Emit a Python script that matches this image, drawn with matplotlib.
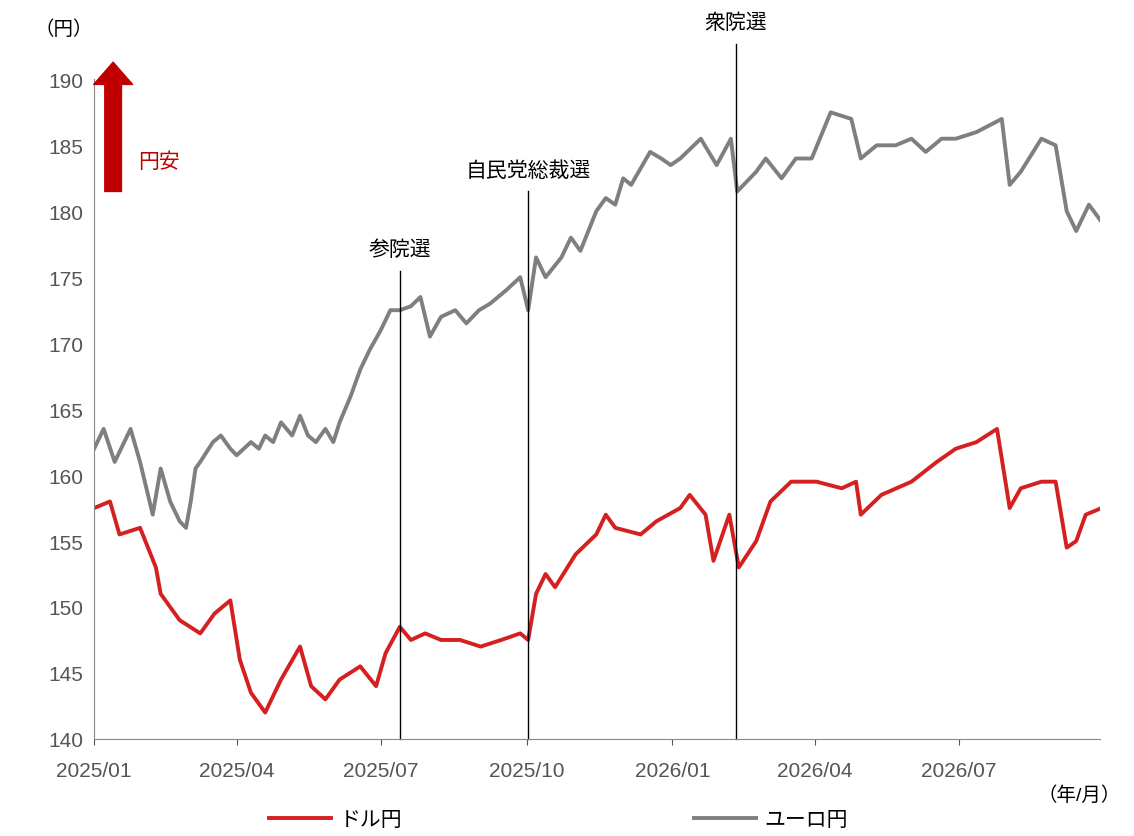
import pandas as pd
import matplotlib
matplotlib.use("Agg")
import matplotlib.pyplot as plt
import matplotlib.dates as mdates

plt.rcParams['font.family'] = ['Liberation Sans', 'Noto Sans CJK JP', 'DejaVu Sans']

START = pd.Timestamp("2025-01-01")

# ユーロ円 (days since 2025-01-01, value)
eur_days = [0, 6, 13, 23, 29, 37, 42, 48, 54, 58, 61, 64, 67, 75, 80, 86, 90, 99, 104, 108,
            113, 118, 125, 130, 135, 140, 146, 151, 155, 162, 168, 174, 181, 187, 193, 200, 206, 212, 219, 228,
            235, 243, 250, 260, 269, 274, 279, 285, 295, 301, 307, 317, 323, 329, 334, 339, 351, 358, 364, 370,
            383, 393, 402, 406, 418, 424, 434, 443, 453, 465, 478, 484, 494, 506, 516, 525, 535, 544, 557, 573,
            578, 585, 598, 607, 614, 620, 628, 636]
eur_vals = [162, 163.5, 161, 163.5, 161, 157, 160.5, 158, 156.5, 156, 158, 160.5, 161, 162.5, 163, 162, 161.5, 162.5, 162, 163,
            162.5, 164, 163, 164.5, 163, 162.5, 163.5, 162.5, 164, 166, 168, 169.5, 171, 172.5, 172.5, 172.8, 173.5, 170.5, 172, 172.5,
            171.5, 172.5, 173, 174, 175, 172.5, 176.5, 175, 176.5, 178, 177, 180, 181, 180.5, 182.5, 182, 184.5, 184, 183.5, 184,
            185.5, 183.5, 185.5, 181.5, 183, 184, 182.5, 184, 184, 187.5, 187, 184, 185, 185, 185.5, 184.5, 185.5, 185.5, 186, 187,
            182, 183, 185.5, 185, 180, 178.5, 180.5, 179.2]

# ドル円
usd_days = [0, 10, 16, 29, 39, 42, 54, 67, 76, 86, 92, 99, 108, 118, 130, 137, 146, 155, 168, 178,
            184, 193, 200, 209, 219, 231, 244, 257, 269, 274, 279, 285, 291, 304, 317, 323, 329, 345, 355, 370,
            376, 386, 391, 401, 407, 418, 427, 440, 456, 472, 481, 484, 497, 516, 532, 544, 557, 570, 578, 585,
            598, 607, 614, 620, 626, 636]
usd_vals = [157.5, 158, 155.5, 156, 153, 151, 149, 148, 149.5, 150.5, 146, 143.5, 142, 144.5, 147, 144, 143, 144.5, 145.5, 144,
            146.5, 148.5, 147.5, 148, 147.5, 147.5, 147, 147.5, 148, 147.5, 151, 152.5, 151.5, 154, 155.5, 157, 156, 155.5, 156.5, 157.5,
            158.5, 157, 153.5, 157, 153, 155, 158, 159.5, 159.5, 159, 159.5, 157, 158.5, 159.5, 161, 162, 162.5, 163.5, 157.5, 159,
            159.5, 159.5, 154.5, 155, 157, 157.5]

events = ["参院選", "自民党総裁選", "衆院選"]
event_dates = ["2025-07-13", "2025-10-02", "2026-02-10"]
event_tops = [175.5, 181.5, 192.7]

tick_dates = ["2025-01-01", "2025-04-01", "2025-07-01", "2025-10-01", "2026-01-01", "2026-04-01", "2026-07-01"]
tick_labels = ["2025/01", "2025/04", "2025/07", "2025/10", "2026/01", "2026/04", "2026/07"]

eur_x = [START + pd.Timedelta(days=d) for d in eur_days]
usd_x = [START + pd.Timedelta(days=d) for d in usd_days]

fig = plt.figure(figsize=(11.34, 8.37), dpi=100)
ax = fig.add_axes([0.083, 0.116, 0.887, 0.788])
ax.plot(usd_x, usd_vals, color="#d42020", linewidth=2.8, label="ドル円")
ax.plot(eur_x, eur_vals, color="#7f7f7f", linewidth=2.8, label="ユーロ円")

for name, d, top in zip(events, event_dates, event_tops):
    dt = pd.Timestamp(d)
    ax.plot([dt, dt], [140, top], color="black", linewidth=1, clip_on=False)
    ax.text(dt, top + 0.9, name, ha="center", va="bottom", fontsize=15)

ax.set_xlim(START, pd.Timestamp("2026-09-28"))
ax.set_ylim(140, 190)
ax.set_yticks(range(140, 191, 5))
ax.set_xticks([pd.Timestamp(t) for t in tick_dates])
ax.set_xticklabels(tick_labels)
ax.tick_params(labelsize=15, colors="#555555", length=4)
ax.tick_params(axis="x", pad=12)
ax.tick_params(axis="y", length=0, pad=8)
for s in ["top", "right"]:
    ax.spines[s].set_visible(False)
ax.spines["left"].set_color("#888888")
ax.spines["bottom"].set_color("#888888")

# 円安 arrow
ax.annotate("", xy=(START + pd.Timedelta(days=12), 191.3),
            xytext=(START + pd.Timedelta(days=12), 181.5),
            arrowprops=dict(facecolor="#c00000", edgecolor="#c00000", width=12, headwidth=28, headlength=16),
            annotation_clip=False)
ax.text(START + pd.Timedelta(days=28), 183.8, "円安", color="#c00000", fontsize=15, va="center")

fig.text(0.03, 0.965, "（円）", fontsize=14, ha="left", va="center")
fig.text(0.915, 0.05, "（年/月）", fontsize=14, ha="left", va="center")
ax.legend(loc="upper left", bbox_to_anchor=(0.155, -0.08), ncol=2, frameon=False,
          fontsize=15, columnspacing=14, handlelength=3, handletextpad=0.4)

fig.savefig("out.png", dpi=100)
